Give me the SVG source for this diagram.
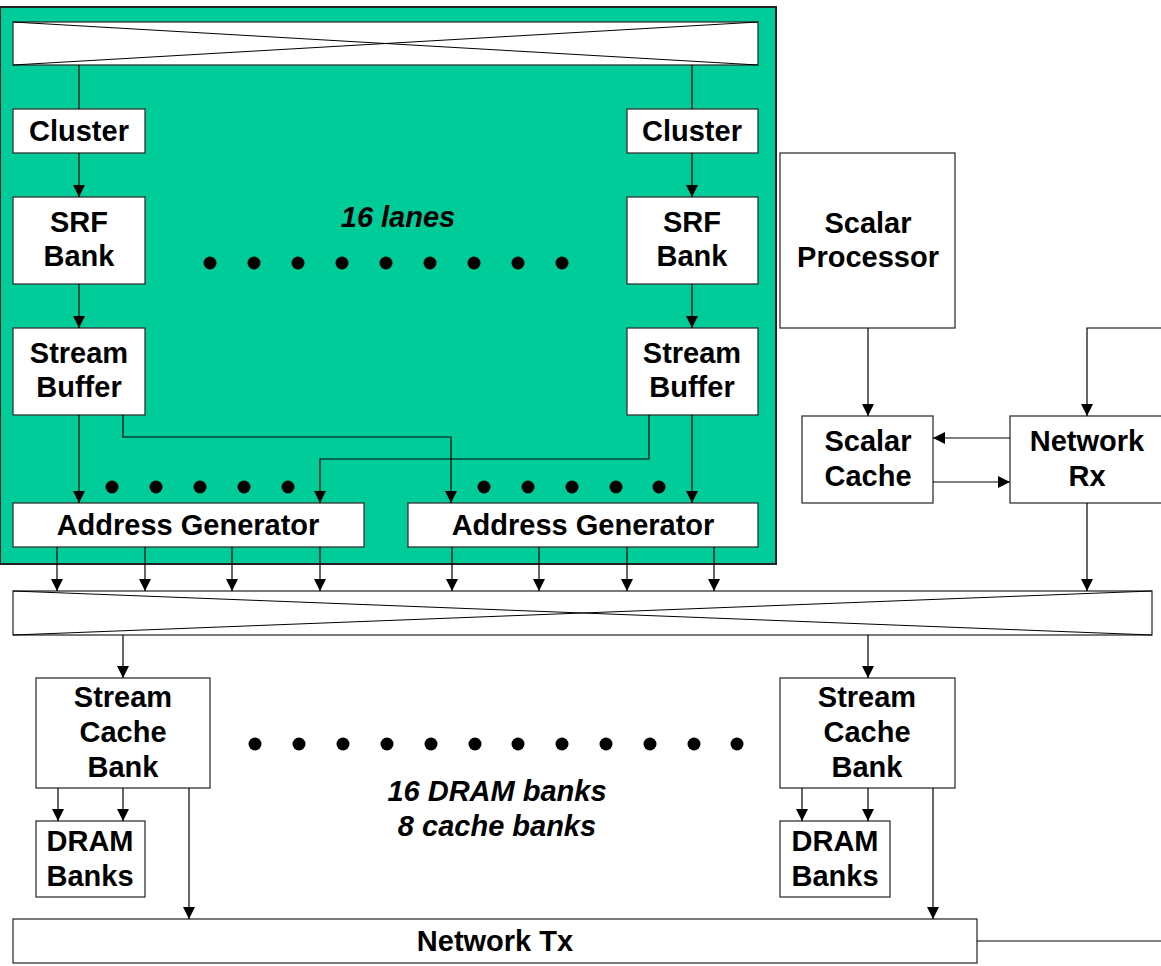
<svg xmlns="http://www.w3.org/2000/svg" width="1161" height="966" viewBox="0 0 1161 966">
<defs>
<marker id="ah" markerUnits="userSpaceOnUse" markerWidth="12" markerHeight="12" viewBox="0 0 12 12" refX="12" refY="6" orient="auto">
<path d="M0,0 L12,6 L0,12 z" fill="#000"/>
</marker>
</defs>
<style>
.box{fill:#fff;stroke:#333;stroke-width:1.3}
.ln{fill:none;stroke:#000;stroke-width:1.2}
.ar{fill:none;stroke:#000;stroke-width:1.2;marker-end:url(#ah)}
.xl{stroke:#000;stroke-width:1}
.t{font-family:"Liberation Sans",Arial,sans-serif;font-weight:bold;font-size:29px;text-anchor:middle;fill:#000}
.ti{font-family:"Liberation Sans",Arial,sans-serif;font-weight:bold;font-style:italic;font-size:29px;text-anchor:middle;fill:#000}
.dot{fill:#000}
</style>
<rect x="0" y="7" width="776" height="557" fill="#00CC99" stroke="#222" stroke-width="2"/>
<g id="xbar-top">
<rect class="box" x="13" y="22" width="745" height="43"/>
<line class="xl" x1="13" y1="22" x2="758" y2="65"/>
<line class="xl" x1="13" y1="65" x2="758" y2="22"/>
</g>
<g id="xbar-mem">
<rect class="box" x="13" y="591" width="1139" height="44"/>
<line class="xl" x1="13" y1="591" x2="1152" y2="635"/>
<line class="xl" x1="13" y1="635" x2="1152" y2="591"/>
</g>
<g id="cluster-l"><rect class="box" x="13" y="109" width="132" height="44"/><text class="t" x="79" y="141">Cluster</text></g>
<g id="cluster-r"><rect class="box" x="627" y="109" width="131" height="44"/><text class="t" x="692" y="141">Cluster</text></g>
<g id="srf-l"><rect class="box" x="13" y="197" width="132" height="87"/><text class="t" x="79" y="232">SRF</text><text class="t" x="79" y="266">Bank</text></g>
<g id="srf-r"><rect class="box" x="627" y="197" width="131" height="87"/><text class="t" x="692" y="232">SRF</text><text class="t" x="692" y="266">Bank</text></g>
<g id="sb-l"><rect class="box" x="13" y="328" width="132" height="87"/><text class="t" x="79" y="363">Stream</text><text class="t" x="79" y="397">Buffer</text></g>
<g id="sb-r"><rect class="box" x="627" y="328" width="131" height="87"/><text class="t" x="692" y="363">Stream</text><text class="t" x="692" y="397">Buffer</text></g>
<g id="ag-l"><rect class="box" x="13" y="503" width="351" height="44"/><text class="t" x="188" y="535">Address Generator</text></g>
<g id="ag-r"><rect class="box" x="408" y="503" width="350" height="44"/><text class="t" x="583" y="535">Address Generator</text></g>
<g id="lanes-label"><text class="ti" x="398" y="227">16 lanes</text></g>
<g id="dots">
<circle class="dot" cx="210" cy="263" r="6.5"/><circle class="dot" cx="254" cy="263" r="6.5"/><circle class="dot" cx="298" cy="263" r="6.5"/><circle class="dot" cx="342" cy="263" r="6.5"/><circle class="dot" cx="386" cy="263" r="6.5"/><circle class="dot" cx="430" cy="263" r="6.5"/><circle class="dot" cx="474" cy="263" r="6.5"/><circle class="dot" cx="518" cy="263" r="6.5"/><circle class="dot" cx="562" cy="263" r="6.5"/>
<circle class="dot" cx="112" cy="487" r="6.5"/><circle class="dot" cx="156" cy="487" r="6.5"/><circle class="dot" cx="200" cy="487" r="6.5"/><circle class="dot" cx="244" cy="487" r="6.5"/><circle class="dot" cx="288" cy="487" r="6.5"/>
<circle class="dot" cx="484" cy="487" r="6.5"/><circle class="dot" cx="528" cy="487" r="6.5"/><circle class="dot" cx="572" cy="487" r="6.5"/><circle class="dot" cx="616" cy="487" r="6.5"/><circle class="dot" cx="659" cy="487" r="6.5"/>
<circle class="dot" cx="255" cy="744" r="6.5"/><circle class="dot" cx="299" cy="744" r="6.5"/><circle class="dot" cx="343" cy="744" r="6.5"/><circle class="dot" cx="387" cy="744" r="6.5"/><circle class="dot" cx="431" cy="744" r="6.5"/><circle class="dot" cx="475" cy="744" r="6.5"/><circle class="dot" cx="518" cy="744" r="6.5"/><circle class="dot" cx="562" cy="744" r="6.5"/><circle class="dot" cx="606" cy="744" r="6.5"/><circle class="dot" cx="650" cy="744" r="6.5"/><circle class="dot" cx="694" cy="744" r="6.5"/><circle class="dot" cx="737" cy="744" r="6.5"/>
</g>
<g id="scalar-proc"><rect class="box" x="780" y="153" width="175" height="175"/><text class="t" x="868" y="233">Scalar</text><text class="t" x="868" y="267">Processor</text></g>
<g id="scalar-cache"><rect class="box" x="802" y="416" width="131" height="87"/><text class="t" x="868" y="451">Scalar</text><text class="t" x="868" y="486">Cache</text></g>
<g id="net-rx"><rect class="box" x="1010" y="416" width="156" height="87"/><text class="t" x="1087" y="451">Network</text><text class="t" x="1087" y="486">Rx</text></g>
<g id="scb-l"><rect class="box" x="36" y="678" width="174" height="110"/><text class="t" x="123" y="707">Stream</text><text class="t" x="123" y="742">Cache</text><text class="t" x="123" y="777">Bank</text></g>
<g id="scb-r"><rect class="box" x="780" y="678" width="175" height="110"/><text class="t" x="867" y="707">Stream</text><text class="t" x="867" y="742">Cache</text><text class="t" x="867" y="777">Bank</text></g>
<g id="dram-l"><rect class="box" x="36" y="821" width="109" height="76"/><text class="t" x="90" y="851">DRAM</text><text class="t" x="90" y="886">Banks</text></g>
<g id="dram-r"><rect class="box" x="780" y="821" width="110" height="76"/><text class="t" x="835" y="851">DRAM</text><text class="t" x="835" y="886">Banks</text></g>
<g id="dram-label"><text class="ti" x="497" y="801">16 DRAM banks</text><text class="ti" x="497" y="836">8 cache banks</text></g>
<g id="net-tx"><rect class="box" x="13" y="919" width="964" height="44"/><text class="t" x="495" y="951">Network Tx</text></g>
<g id="connectors">
<line class="ln" x1="79" y1="65" x2="79" y2="109"/>
<line class="ln" x1="692" y1="65" x2="692" y2="109"/>
<line class="ar" x1="79" y1="153" x2="79" y2="197"/>
<line class="ar" x1="692" y1="153" x2="692" y2="197"/>
<line class="ar" x1="79" y1="284" x2="79" y2="328"/>
<line class="ar" x1="692" y1="284" x2="692" y2="328"/>
<line class="ar" x1="79" y1="415" x2="79" y2="503"/>
<line class="ar" x1="692" y1="415" x2="692" y2="503"/>
<polyline class="ar" points="123,415 123,437 451,437 451,503"/>
<polyline class="ar" points="649,415 649,459 320,459 320,503"/>
<line class="ar" x1="57" y1="547" x2="57" y2="591"/>
<line class="ar" x1="145" y1="547" x2="145" y2="591"/>
<line class="ar" x1="232" y1="547" x2="232" y2="591"/>
<line class="ar" x1="320" y1="547" x2="320" y2="591"/>
<line class="ar" x1="452" y1="547" x2="452" y2="591"/>
<line class="ar" x1="539" y1="547" x2="539" y2="591"/>
<line class="ar" x1="627" y1="547" x2="627" y2="591"/>
<line class="ar" x1="714" y1="547" x2="714" y2="591"/>
<line class="ar" x1="868" y1="328" x2="868" y2="416"/>
<line class="ar" x1="1010" y1="438" x2="933" y2="438"/>
<line class="ar" x1="933" y1="482" x2="1010" y2="482"/>
<polyline class="ar" points="1161,328 1087,328 1087,416"/>
<line class="ar" x1="1087" y1="503" x2="1087" y2="591"/>
<line class="ar" x1="123" y1="635" x2="123" y2="678"/>
<line class="ar" x1="868" y1="635" x2="868" y2="678"/>
<line class="ar" x1="58" y1="788" x2="58" y2="821"/>
<line class="ar" x1="123" y1="788" x2="123" y2="821"/>
<line class="ar" x1="802" y1="788" x2="802" y2="821"/>
<line class="ar" x1="868" y1="788" x2="868" y2="821"/>
<line class="ar" x1="189" y1="788" x2="189" y2="919"/>
<line class="ar" x1="933" y1="788" x2="933" y2="919"/>
<line class="ln" x1="977" y1="941" x2="1161" y2="941"/>
</g>
</svg>
